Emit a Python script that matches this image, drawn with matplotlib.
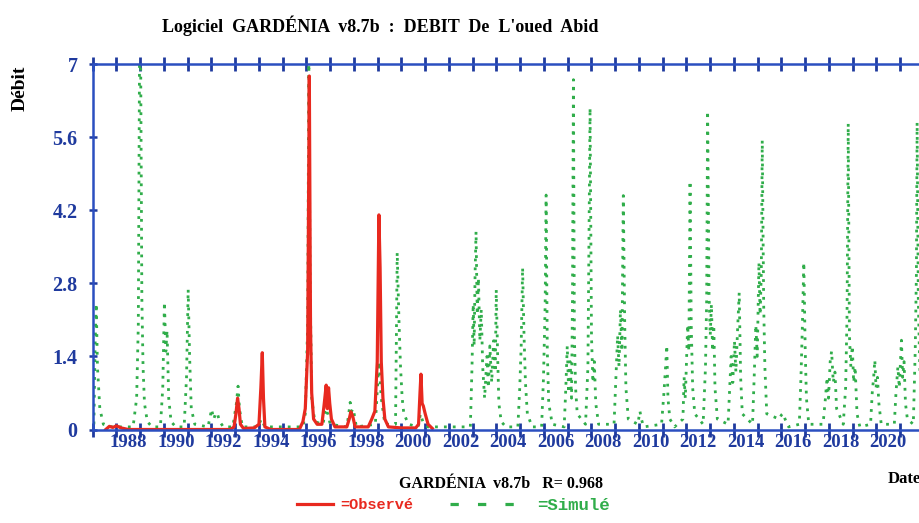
#!/usr/bin/env python3
"""GARDENIA - debit observe / simule de l'oued Abid."""

import matplotlib
matplotlib.use('Agg')
import matplotlib.pyplot as plt
from matplotlib.lines import Line2D

# Debit observe (annee decimale, m3/s)
obs_years = [1987.55, 1987.7, 1987.85, 1988.0, 1988.2, 1988.5,
             1992.8, 1992.95, 1993.03, 1993.1, 1993.16, 1993.22, 1993.35,
             1993.8, 1994.0, 1994.08, 1994.14, 1994.19, 1994.25, 1994.5,
             1995.7, 1995.85, 1995.95, 1996.05, 1996.12, 1996.17, 1996.22,
             1996.3, 1996.45, 1996.65, 1996.75, 1996.83, 1996.88, 1996.93,
             1996.98, 1997.05, 1997.2, 1997.7, 1997.8, 1997.87, 1997.95,
             1998.05, 1998.6, 1998.75, 1998.88, 1998.98, 1999.05, 1999.1,
             1999.15, 1999.22, 1999.3, 1999.45, 2000.0, 2000.6, 2000.72,
             2000.78, 2000.82, 2000.87, 2000.92, 2001.0, 2001.12, 2001.3]
obs_values = [0.0, 0.06, 0.04, 0.07, 0.03, 0.0,
              0.0, 0.05, 0.3, 0.6, 0.4, 0.1, 0.02,
              0.03, 0.1, 0.8, 1.47, 0.6, 0.05, 0.0,
              0.0, 0.15, 0.4, 1.5, 6.77, 2.0, 0.7,
              0.2, 0.1, 0.1, 0.5, 0.85, 0.4, 0.8,
              0.5, 0.2, 0.05, 0.05, 0.2, 0.34, 0.25,
              0.05, 0.05, 0.2, 0.35, 1.3, 4.11, 3.1,
              1.3, 0.6, 0.2, 0.05, 0.03, 0.03, 0.1,
              0.7, 1.06, 0.5, 0.45, 0.3, 0.1, 0.02]

# Debit simule
sim_years = [1987.05, 1987.1, 1987.15, 1987.2, 1987.3, 1987.45, 1987.8,
             1988.7, 1988.85, 1988.92, 1988.97, 1989.02, 1989.07, 1989.12,
             1989.18, 1989.3, 1989.5,
             1989.85, 1989.95, 1990.02, 1990.08, 1990.13, 1990.2, 1990.3,
             1990.5,
             1990.85, 1990.95, 1991.02, 1991.08, 1991.15, 1991.3,
             1991.85, 1991.95, 1992.0, 1992.1, 1992.18, 1992.25, 1992.35,
             1992.5,
             1992.9, 1993.05, 1993.12, 1993.18, 1993.3,
             1993.95, 1994.1, 1994.25,
             1995.85, 1995.95, 1996.05, 1996.1, 1996.15, 1996.22, 1996.35,
             1996.7, 1996.8, 1996.9, 1997.0,
             1997.7, 1997.78, 1997.84, 1997.9, 1997.97, 1998.1,
             1998.9, 1999.05, 1999.15, 1999.3,
             1999.75, 1999.82, 1999.9, 1999.96, 2000.03, 2000.1, 2000.3,
             2000.7, 2000.8, 2000.9, 2001.1,
             2002.9, 2002.97, 2003.02, 2003.06, 2003.1, 2003.14, 2003.19,
             2003.24, 2003.3, 2003.36, 2003.42, 2003.5, 2003.6, 2003.66,
             2003.72, 2003.8, 2003.88, 2003.95, 2003.99, 2004.05, 2004.1,
             2004.2, 2004.4,
             2004.9, 2004.98, 2005.04, 2005.1, 2005.16, 2005.22, 2005.3,
             2005.5,
             2005.9, 2005.98, 2006.05, 2006.09, 2006.14, 2006.2, 2006.35,
             2006.85, 2006.92, 2006.98, 2007.04, 2007.1, 2007.16, 2007.2,
             2007.24, 2007.28, 2007.33, 2007.4,
             2007.75, 2007.85, 2007.94, 2008.0, 2008.06, 2008.12, 2008.18,
             2008.3,
             2008.95, 2009.02, 2009.1, 2009.16, 2009.22, 2009.28, 2009.34,
             2009.4, 2009.45, 2009.55,
             2009.95, 2010.04, 2010.1, 2010.2,
             2010.95, 2011.05, 2011.12, 2011.17, 2011.22, 2011.3, 2011.5,
             2011.85, 2011.9, 2011.95, 2012.0, 2012.05, 2012.1, 2012.15,
             2012.2, 2012.26, 2012.35,
             2012.7, 2012.8, 2012.85, 2012.89, 2012.95, 2013.0, 2013.05,
             2013.1, 2013.15, 2013.2, 2013.3,
             2013.75, 2013.82, 2013.88, 2013.95, 2014.02, 2014.08, 2014.15,
             2014.22, 2014.28, 2014.35,
             2014.78, 2014.85, 2014.92, 2014.98, 2015.05, 2015.1, 2015.15,
             2015.19, 2015.25, 2015.3, 2015.38,
             2015.9, 2016.0, 2016.07, 2016.15, 2016.3,
             2016.75, 2016.82, 2016.88, 2016.94, 2017.0, 2017.05, 2017.15,
             2017.75, 2017.85, 2017.92, 2017.98, 2018.05, 2018.11, 2018.18,
             2018.25, 2018.32,
             2018.6, 2018.7, 2018.76, 2018.81, 2018.86, 2018.92, 2018.98,
             2019.04, 2019.1, 2019.18, 2019.3,
             2019.75, 2019.82, 2019.88, 2019.93, 2019.98, 2020.04, 2020.1,
             2020.2,
             2020.75, 2020.82, 2020.9, 2020.96, 2021.02, 2021.05, 2021.1,
             2021.16, 2021.22, 2021.3,
             2021.55, 2021.63, 2021.68, 2021.71, 2021.76, 2021.82, 2021.9,
             2022.0]
sim_values = [0.1, 1.6, 2.41, 1.2, 0.4, 0.1, 0.05,
              0.05, 0.6, 2.0, 7.0, 7.0, 2.5, 1.2,
              0.5, 0.15, 0.05,
              0.05, 0.8, 2.44, 1.5, 1.9, 0.6, 0.15,
              0.05,
              0.05, 1.0, 2.68, 1.4, 0.4, 0.1,
              0.05, 0.25, 0.39, 0.2, 0.32, 0.3, 0.15,
              0.05,
              0.05, 0.5, 0.83, 0.4, 0.05,
              0.05, 0.2, 0.05,
              0.05, 0.3, 2.0, 7.0, 3.0, 0.6, 0.15,
              0.1, 0.4, 0.3, 0.1,
              0.05, 0.3, 0.52, 0.35, 0.4, 0.05,
              0.1, 1.3, 0.6, 0.1,
              0.1, 3.39, 2.0, 1.2, 0.6, 0.3, 0.1,
              0.05, 0.3, 0.15, 0.05,
              0.05, 1.2, 2.4, 1.6, 3.0, 3.79, 2.2,
              2.9, 1.7, 2.3, 1.2, 0.6, 1.4, 0.8,
              1.6, 0.9, 1.7, 1.1, 2.68, 1.4, 0.5,
              0.15, 0.05,
              0.05, 0.8, 1.6, 3.10, 1.8, 0.9, 0.3,
              0.05,
              0.05, 1.0, 2.4, 4.49, 1.5, 0.5, 0.1,
              0.05, 0.8, 1.6, 0.7, 1.3, 0.6, 2.5,
              6.70, 1.8, 0.8, 0.3,
              0.1, 1.2, 6.16, 1.8, 0.9, 1.3, 0.5,
              0.1,
              0.1, 0.9, 1.8, 1.2, 2.3, 1.5, 4.48,
              2.0, 0.8, 0.2,
              0.1, 0.35, 0.2, 0.05,
              0.1, 0.7, 1.2, 1.61, 0.6, 0.2, 0.05,
              0.2, 1.0, 0.6, 1.3, 2.0, 1.5, 4.76,
              2.0, 0.8, 0.3,
              0.1, 1.2, 2.5, 6.10, 2.6, 1.8, 2.4,
              1.5, 2.0, 0.8, 0.2,
              0.1, 0.8, 1.4, 0.9, 1.7, 1.1, 1.9,
              2.62, 1.0, 0.3,
              0.1, 1.0, 2.0, 1.4, 3.2, 2.2, 3.0,
              5.54, 2.4, 1.2, 0.3,
              0.2, 0.28, 0.31, 0.2, 0.05,
              0.1, 1.0, 2.0, 3.20, 1.5, 0.6, 0.1,
              0.1, 0.6, 1.0, 0.6, 1.3, 1.5, 0.9,
              1.1, 0.4,
              0.1, 0.8, 2.2, 5.86, 1.8, 1.2, 1.6,
              0.9, 1.2, 0.3, 0.05,
              0.1, 0.7, 1.0, 1.33, 0.8, 1.0, 0.5,
              0.1,
              0.1, 0.7, 1.2, 0.8, 1.4, 1.71, 1.0,
              1.3, 0.5, 0.2,
              0.1, 1.5, 3.0, 5.88, 2.5, 1.2, 0.6,
              0.3]

year_ticks = list(range(1987, 2023))
year_labels = [str(y) for y in range(1988, 2021, 2)]
y_ticks = [0, 1.4, 2.8, 4.2, 5.6, 7]
y_labels = ['0', '1.4', '2.8', '4.2', '5.6', '7']

AXIS_BLUE = '#2b4fc0'
LABEL_BLUE = '#1f3a9e'
RED = '#e8291f'
GREEN = '#30ad4a'
SERIF = 'Liberation Serif'
MONO = 'Liberation Mono'

W, H = 920, 523


def fx(px):
    return px / W


def fy(py):
    return 1 - py / H


fig = plt.figure(figsize=(9.2, 5.23), dpi=100)
ax = fig.add_axes([fx(92.7), fy(429.5), fx(924 - 92.7), (429.5 - 64) / H])

ax.plot(sim_years, sim_values, color=GREEN, lw=2.0, dashes=(1.0, 2.2),
        zorder=2)
ax.plot(obs_years, obs_values, color=RED, lw=2.3, zorder=3)

ax.set_xlim(1987, 2022)
ax.set_ylim(0, 7)

for side in ['left', 'top', 'bottom']:
    ax.spines[side].set_color(AXIS_BLUE)
    ax.spines[side].set_linewidth(1.8)
    ax.spines[side].set_zorder(4)
ax.spines['right'].set_visible(False)

# graduations annuelles, etiquettes centrees sur l'annee
ax.set_xticks(year_ticks)
ax.set_xticks([int(y) + 0.5 for y in year_labels], minor=True)
ax.set_xticklabels(year_labels, minor=True)
ax.tick_params(axis='x', which='major', top=True, bottom=True,
               direction='inout', length=10, width=2.0, color=LABEL_BLUE,
               labelbottom=False)
ax.tick_params(axis='x', which='minor', length=0, pad=3,
               labelcolor=LABEL_BLUE)
ax.set_yticks(y_ticks)
ax.set_yticklabels(y_labels)
ax.tick_params(axis='y', direction='inout', length=6, width=1.8,
               color=LABEL_BLUE, labelcolor=LABEL_BLUE, pad=8)
for lab in ax.get_xticklabels(minor=True):
    lab.set_fontfamily(SERIF)
    lab.set_fontweight('bold')
    lab.set_fontsize(13.5)
for lab in ax.get_yticklabels():
    lab.set_fontfamily(SERIF)
    lab.set_fontweight('bold')
    lab.set_fontsize(14.5)

fig.text(fx(380), fy(26),
         "Logiciel  GARDÉNIA  v8.7b  :  DEBIT  De  L'oued  Abid",
         ha='center', va='center', family=SERIF, weight='bold', fontsize=13)
fig.text(fx(20), fy(88), 'Débit', rotation=90, ha='center', va='center',
         family=SERIF, weight='bold', fontsize=14)
fig.text(fx(888), fy(479), 'Date', ha='left', va='center',
         family=SERIF, weight='bold', fontsize=12)
fig.text(fx(501), fy(484), 'GARDÉNIA  v8.7b   R= 0.968', ha='center',
         va='center', family=SERIF, weight='bold', fontsize=11.5)

# legende
fig.add_artist(Line2D([fx(297), fx(333)], [fy(504), fy(504)], color=RED,
                      lw=2.3, transform=fig.transFigure))
fig.text(fx(340), fy(505), '=Observé', ha='left', va='center',
         family=MONO, weight='bold', fontsize=11, color=RED)
fig.add_artist(Line2D([fx(450), fx(520)], [fy(504), fy(504)], color=GREEN,
                      lw=2.3, dashes=(2.6, 6), transform=fig.transFigure))
fig.text(fx(537), fy(505), '=Simulé', ha='left', va='center',
         family=MONO, weight='bold', fontsize=12.5, color=GREEN)

fig.savefig('out.png', dpi=100)
